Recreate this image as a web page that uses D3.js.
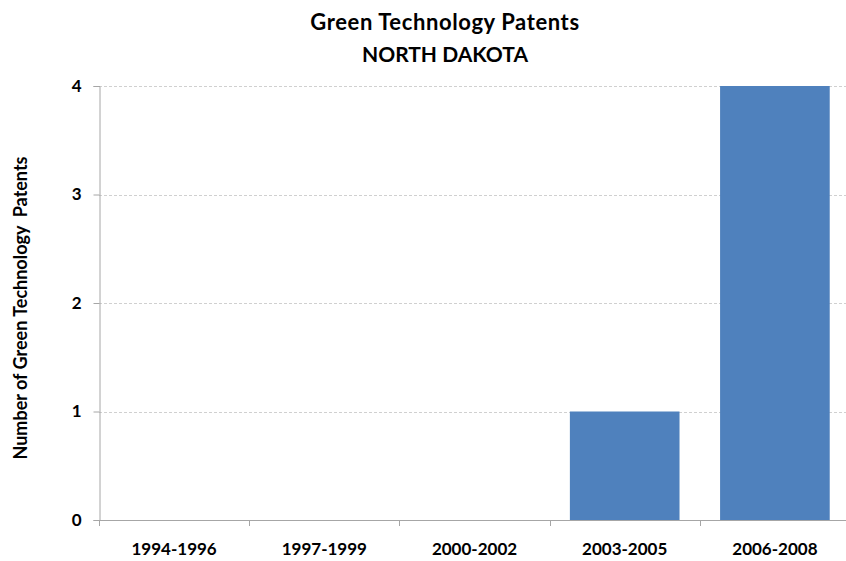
<!DOCTYPE html>
<html>
<head>
	<script src="https://cdn.jsdelivr.net/npm/d3@7"></script>
	<style>
		body { margin: 0; background: #fff; }
		text { font-family: Lato, "Open Sans", sans-serif; font-weight: bold; fill: #000; }
	</style>
</head>
<body>
	<div id="chart"></div>
	<script>
		// data
		var periods = ["1994-1996", "1997-1999", "2000-2002", "2003-2005", "2006-2008"];
		var patents = [0, 0, 0, 1, 4];
		var yTicks = [0, 1, 2, 3, 4];

		var width = 846,
			height = 561;

		var plotLeft = 99, plotRight = 850, plotTop = 86, plotBottom = 520;

		var svg = d3.select("#chart").append("svg")
			.attr("width", width)
			.attr("height", height);

		var x = d3.scaleBand()
			.domain(periods)
			.range([plotLeft, plotRight])
			.paddingInner(0.27)
			.paddingOuter(0.135);

		var y = d3.scaleLinear()
			.domain([0, 4])
			.range([plotBottom, plotTop]);

		// gridlines
		svg.append("g")
			.selectAll("line")
			.data(yTicks.filter(function(d) { return d > 0; }))
			.enter().append("line")
			.attr("x1", plotLeft)
			.attr("x2", 846)
			.attr("y1", function(d) { return Math.round(y(d)) + 0.5; })
			.attr("y2", function(d) { return Math.round(y(d)) + 0.5; })
			.attr("stroke", "#d0d0d0")
			.attr("stroke-dasharray", "3,2");

		// bars
		svg.append("g")
			.selectAll("rect")
			.data(patents)
			.enter().append("rect")
			.attr("x", function(d, i) { return x(periods[i]); })
			.attr("width", x.bandwidth())
			.attr("y", function(d) { return y(d); })
			.attr("height", function(d) { return plotBottom - y(d); })
			.attr("fill", "#4f81bd");

		// y axis
		var yAxis = svg.append("g")
			.attr("transform", "translate(" + (plotLeft + 0.5) + ",0)")
			.call(d3.axisLeft(y).tickValues(yTicks).tickFormat(d3.format("d")).tickSize(6).tickPadding(12));
		yAxis.select(".domain").attr("stroke", "#a6a6a6");
		yAxis.selectAll(".tick line").attr("stroke", "#a6a6a6");
		yAxis.selectAll("text").attr("font-size", "17px");

		// x axis
		var xAxis = svg.append("g")
			.attr("transform", "translate(0," + (plotBottom + 0.5) + ")")
			.call(d3.axisBottom(x).tickSize(0).tickPadding(22));
		xAxis.select(".domain").attr("stroke", "#a6a6a6").attr("d", "M" + plotLeft + ",0H" + plotRight);
		xAxis.selectAll("text").attr("font-size", "17px");

		svg.append("g")
			.selectAll("line")
			.data(periods.concat([null]))
			.enter().append("line")
			.attr("x1", function(d, i) { return Math.round(plotLeft + i * x.step()) + 0.5; })
			.attr("x2", function(d, i) { return Math.round(plotLeft + i * x.step()) + 0.5; })
			.attr("y1", plotBottom)
			.attr("y2", plotBottom + 6)
			.attr("stroke", "#a6a6a6");

		// titles
		svg.append("text")
			.attr("x", 445)
			.attr("y", 30)
			.attr("text-anchor", "middle")
			.attr("font-size", "22px")
			.attr("letter-spacing", "0.6px")
			.text("Green Technology Patents");

		svg.append("text")
			.attr("x", 445)
			.attr("y", 62)
			.attr("text-anchor", "middle")
			.attr("font-size", "21px")
			.text("NORTH DAKOTA");

		svg.append("text")
			.attr("transform", "translate(27,308) rotate(-90)")
			.attr("text-anchor", "middle")
			.attr("font-size", "18px")
			.style("white-space", "pre")
			.text("Number of Green Technology  Patents");
	</script>
</body>
</html>
